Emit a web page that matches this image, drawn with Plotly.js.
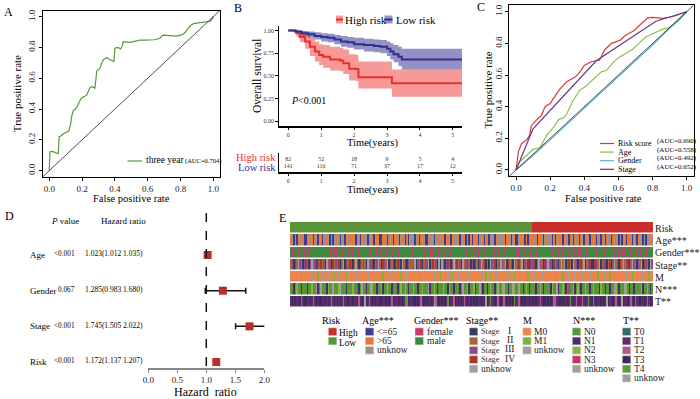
<!DOCTYPE html>
<html><head><meta charset="utf-8">
<script src="https://cdn.plot.ly/plotly-3.0.1.min.js"></script>
<style>html,body{margin:0;padding:0;background:#fff}#chart{width:700px;height:399px}</style>
</head><body><div id="chart"></div>
<script>
// ---------------- DATA ----------------
// A: three-year ROC
const rocA_fpr=[0,0,0.004,0.004,0.02,0.04,0.055,0.06,0.07,0.085,0.1,0.106,0.12,0.13,0.136,0.146,0.16,0.17,0.18,0.195,0.21,0.228,0.24,0.248,0.265,0.278,0.285,0.29,0.3,0.309,0.32,0.33,0.35,0.37,0.394,0.4,0.42,0.435,0.445,0.45,0.47,0.49,0.52,0.553,0.58,0.614,0.64,0.675,0.685,0.695,0.72,0.75,0.776,0.8,0.817,0.83,0.837,0.85,0.866,0.88,0.907,0.93,0.96,0.98,0.99,1.0];
const rocA_tpr=[0,0.09,0.09,0.123,0.125,0.115,0.11,0.22,0.225,0.24,0.245,0.25,0.26,0.3,0.35,0.39,0.4,0.415,0.44,0.47,0.48,0.49,0.52,0.54,0.545,0.535,0.6,0.65,0.655,0.665,0.7,0.72,0.735,0.72,0.71,0.795,0.8,0.79,0.81,0.837,0.835,0.833,0.84,0.848,0.848,0.848,0.85,0.86,0.875,0.88,0.878,0.876,0.874,0.88,0.887,0.9,0.913,0.93,0.946,0.955,0.96,0.965,0.967,0.97,0.98,1.0];
const rocA_label='three year', rocA_auc='(AUC=0.704)';

// B: Kaplan-Meier
const hiTime=[0,0.25,0.35,0.51,0.66,0.81,0.94,1.06,1.27,1.57,1.67,1.85,2.06,2.13,3.15,5.3];
const hiSurv=[1,0.97,0.93,0.88,0.82,0.77,0.73,0.71,0.68,0.67,0.64,0.58,0.575,0.485,0.42,0.42];
const hiUpper=[1,1,0.99,0.96,0.92,0.88,0.85,0.84,0.82,0.81,0.79,0.74,0.73,0.66,0.57,0.57];
const hiLower=[1,0.93,0.87,0.8,0.72,0.66,0.62,0.59,0.56,0.55,0.52,0.45,0.44,0.36,0.27,0.27];
const loTime=[0,0.2,0.4,0.6,0.8,1.0,1.2,1.4,1.6,1.8,2.0,2.3,2.6,2.8,3.0,3.1,3.2,3.35,3.45,5.3];
const loSurv=[1,0.99,0.97,0.96,0.94,0.93,0.92,0.9,0.88,0.87,0.85,0.84,0.83,0.82,0.8,0.77,0.74,0.71,0.68,0.68];
const loUpper=[1,1,0.995,0.99,0.98,0.97,0.965,0.95,0.94,0.93,0.92,0.91,0.9,0.895,0.88,0.86,0.84,0.82,0.8,0.8];
const loLower=[1,0.97,0.94,0.92,0.9,0.88,0.87,0.85,0.82,0.81,0.79,0.77,0.76,0.75,0.72,0.68,0.65,0.61,0.57,0.57];
const groupNames=['High risk','Low risk'];
const pText='<i>P</i>&lt;0.001';
const riskTimes=[0,1,2,3,4,5];
const nHigh=[82,52,18,9,5,4];
const nLow=[141,110,71,37,17,12];

// C: ROC comparison
const rocR_fpr=[0,0.005,0.014,0.033,0.0625,0.08,0.09,0.12,0.15,0.17,0.2,0.23,0.26,0.3,0.35,0.375,0.4,0.44,0.49,0.52,0.56,0.61,0.64,0.69,0.73,0.77,0.8,0.86,0.92,0.97,1];
const rocR_tpr=[0,0.05,0.116,0.168,0.19,0.22,0.28,0.316,0.347,0.4,0.42,0.47,0.516,0.56,0.59,0.62,0.66,0.684,0.695,0.76,0.8,0.82,0.85,0.88,0.92,0.96,0.964,0.958,0.97,0.99,1];
const rocAge_fpr=[0,0.02,0.05,0.08,0.1,0.14,0.16,0.18,0.22,0.25,0.28,0.3,0.33,0.37,0.41,0.45,0.5,0.53,0.57,0.6,0.65,0.68,0.72,0.76,0.82,0.86,0.9,0.95,1];
const rocAge_tpr=[0,0.05,0.08,0.11,0.13,0.14,0.18,0.22,0.27,0.32,0.33,0.36,0.43,0.5,0.53,0.57,0.62,0.63,0.68,0.71,0.74,0.76,0.8,0.84,0.87,0.89,0.9,0.94,1];
const rocGen_fpr=[0,0.14,0.5,0.8,1];
const rocGen_tpr=[0,0.13,0.49,0.79,1];
const rocSt_fpr=[0,0.1,0.47,0.82,1];
const rocSt_tpr=[0,0.26,0.69,0.94,1];
const rocC_names=['Risk score','Age','Gender','Stage'];
const rocC_auc=['(AUC=0.690)','(AUC=0.558)','(AUC=0.492)','(AUC=0.652)'];

// D: forest plot
const fVars=['Age','Gender','Stage','Risk'];
const fP=['<0.001','0.067','<0.001','<0.001'];
const fHR=[1.023,1.285,1.745,1.172];
const fLo=[1.012,0.983,1.505,1.137];
const fHi=[1.035,1.680,2.022,1.207];
const nullHR=1;

// E: heatmap (patients sorted by risk score)
const rowNames=['Risk','Age***','Gender***','Stage**','M','N***','T**'];
const riskCats=['High','Low'];
const ageCats=['<=65','>65','unknow'];
const genderCats=['female','male'];
const stageCats=['Stage I','Stage II','Stage III','Stage IV','unknow'];
const mCats=['M0','M1','unknow'];
const nCats=['N0','N1','N2','N3','unknow'];
const tCats=['T0','T1','T2','T3','T4','unknow'];
const riskCodes=['1111111111','1111111111','1111111111','1111111111','1111111111','1111111111','1111111111','1111111111',
 '1111111111','1111111111','1111111111','1111111111','1111111111','1111111111','1111111111','1111111111',
 '0000000000','0000000000','0000000000','0000000000','0000000000','0000000000','0000000000','0000000000'].join('');
const ageCodes=['1201012210','0212101202','1021120102','1120210121','2110120112','2012102110','0112012101','1202120102',
 '2102101120','0121202112','1201120121','2101210201','0121021101','1022101212','2101120210','0211201021',
 '1210112021','2120102112','0121012012','1012021201','1102101201','2201121020','2101210210','1210201212'].join('');
const genderCodes=['1011101110','1101101111','1110110110','0111011101','1011101101','1110111010','0110111011','1011110111',
 '0111101101','1101011101','1101110111','1110110111','1011011101','0111101011','1011110110','1011101110',
 '1101111011','1110111011','0111011101','0101110111','1101111011','1111011010','1011101110','1011101111'].join('');
const stageCodes=['1203142102','3102412031','3120412031','2130140213','2014203121','0412301241','0321402130','1320413021',
 '1240213012','2401312040','4102310241','3120412310','2031024130','1042130124','2140312041','2314021302',
 '2301421032','4120312014','1402310412','0231401230','0321401230','1302412031','4123014210','2140321042'].join('');
const mCodes=['0002000100','0000200010','0200020001','0020000100','0002000020','0200002000','0100002000','0001000200',
 '0200010002','0000020001','0000200100','0200000020','0020000201','0010002000','0000200010','0000200100',
 '0200002000','0200010000','1000200020','0002000020','0001000200','0100002000','0020001000','0002000100'].join('');
const nCodes=['0010200100','0100200410','4000120040','0024000100','0200310400','1004200100','2100400100','0102004010',
 '0400100200','0410020100','0400120010','0010400210','0210040100','1020010400','2400100420','0400102010',
 '0010040100','0012004100','2010300210','2010040010','4000120010','0100420100','0420100100','0041002010'].join('');
const tCodes=['1313113213','3113121313','3113131413','1313141131','1311321315','3121313113','3113131231','1131312431',
 '1331312131','3113152131','3131431123','1313121313','1313113135','3141131213','1213131341','1213131131',
 '3131121331','3131241131','3113141312','1312131413','2131131315','3113121315','3113121341','1311312131'].join('');

// ---------------- STYLE ----------------
const FONT='"Liberation Serif","Times New Roman",Times,serif';
const catColors={
  Risk:['#c9302c','#5b9338'],
  Age:['#3d3d8f','#e5793a','#9c8f8c'],
  Gender:['#c8396e','#3c8a3c'],
  Stage:['#333d60','#a8653a','#8d4b8d','#a3392f','#a39e9c'],
  M:['#ea854f','#7db142','#a39e9c'],
  N:['#599538','#4a2b6b','#85b443','#c0396b','#a39e9c'],
  T:['#2f6b67','#5b2e6b','#b05b8b','#3b2b5c','#5b9a38','#a39e9c']
};
const rocCColors=['#e0352f','#8dbf4e','#5ab4d0','#5b3a8a'];
const px=v=>v/700, py=v=>1-v/399;
const anns=[], shapes=[];
function T(text,x,y,size,o){o=o||{};anns.push(Object.assign({text:text,x:px(x),y:py(y),xref:'paper',yref:'paper',showarrow:false,
  font:{family:FONT,size:size,color:o.color||'#000'},xanchor:o.xa||'center',yanchor:o.ya||'middle',borderpad:0},o.extra||{}));}
const esc=s=>s.replace(/&/g,'&amp;').replace(/</g,'&lt;').replace(/>/g,'&gt;');
const vert={textangle:-90};

const traces=[];
// ---- A ----
shapes.push({type:'line',xref:'x',yref:'y',x0:-0.04,y0:-0.04,x1:1.04,y1:1.04,line:{color:'#222',width:0.8}});
traces.push({x:rocA_fpr,y:rocA_tpr,mode:'lines',line:{color:'#559b3b',width:1.2},xaxis:'x',yaxis:'y',hoverinfo:'skip'});
shapes.push({type:'line',xref:'paper',yref:'paper',x0:px(127.5),x1:px(142),y0:py(161),y1:py(161),line:{color:'#559b3b',width:1.2}});
T(rocA_label,145,160.5,9.5,{xa:'left'});
T(rocA_auc,184,161,6.5,{xa:'left'});
T('False positive rate',131.3,198.5,10.5);
T('True positive rate',16.5,93.7,11,{extra:vert});
T('A',8,12,12);

// ---- B ----
const redLine='#e8302a', blueLine='#2e3192', redBand='rgba(240,70,70,0.55)', blueBand='rgba(60,55,150,0.55)';
function band(t,lo,hi,col){
  traces.push({x:t,y:lo,mode:'lines',line:{width:0,shape:'hv'},xaxis:'x2',yaxis:'y2',hoverinfo:'skip'});
  traces.push({x:t,y:hi,mode:'lines',line:{width:0,shape:'hv'},fill:'tonexty',fillcolor:col,xaxis:'x2',yaxis:'y2',hoverinfo:'skip'});
}
band(hiTime,hiLower,hiUpper,redBand);
band(loTime,loLower,loUpper,blueBand);
traces.push({x:hiTime,y:hiSurv,mode:'lines',line:{color:redLine,width:2,shape:'hv'},xaxis:'x2',yaxis:'y2',hoverinfo:'skip'});
traces.push({x:loTime,y:loSurv,mode:'lines',line:{color:blueLine,width:2,shape:'hv'},xaxis:'x2',yaxis:'y2',hoverinfo:'skip'});
// legend
shapes.push({type:'rect',xref:'paper',yref:'paper',x0:px(336),x1:px(343),y0:py(23.5),y1:py(15.5),fillcolor:redBand,line:{width:0}});
shapes.push({type:'line',xref:'paper',yref:'paper',x0:px(336),x1:px(343),y0:py(19.5),y1:py(19.5),line:{color:redLine,width:2}});
shapes.push({type:'rect',xref:'paper',yref:'paper',x0:px(384.5),x1:px(392.5),y0:py(23.5),y1:py(15.5),fillcolor:blueBand,line:{width:0}});
shapes.push({type:'line',xref:'paper',yref:'paper',x0:px(384.5),x1:px(392.5),y0:py(19.5),y1:py(19.5),line:{color:blueLine,width:2}});
T(groupNames[0],344,19.5,11,{xa:'left'});
T(groupNames[1],394.5,19.5,11,{xa:'left'});
T(pText,290,100,10,{xa:'left'});
T('Overall survival',257,76,11.5,{extra:vert});
T('Time(years)',372,143,10.5);
T('B',238,8,12);
// risk table
traces.push({x:riskTimes,y:riskTimes.map(()=>2),text:nHigh.map(String),mode:'text',textfont:{family:FONT,size:6,color:'#333'},xaxis:'x3',yaxis:'y3',hoverinfo:'skip',cliponaxis:false});
traces.push({x:riskTimes,y:riskTimes.map(()=>1),text:nLow.map(String),mode:'text',textfont:{family:FONT,size:6,color:'#333'},xaxis:'x3',yaxis:'y3',hoverinfo:'skip',cliponaxis:false});
T(groupNames[0],276.5,157.8,10.5,{xa:'right',color:'#e8302a'});
T(groupNames[1],276.5,167.2,10.5,{xa:'right',color:'#2e3192'});
T('Time(years)',372,190,10.5);

// ---- C ----
shapes.push({type:'line',xref:'x4',yref:'y4',x0:-0.04,y0:-0.04,x1:1.04,y1:1.04,line:{color:'#222',width:0.8}});
[[rocR_fpr,rocR_tpr],[rocAge_fpr,rocAge_tpr],[rocGen_fpr,rocGen_tpr],[rocSt_fpr,rocSt_tpr]].forEach((d,i)=>{
  traces.push({x:d[0],y:d[1],mode:'lines',line:{color:rocCColors[i],width:1.2},xaxis:'x4',yaxis:'y4',hoverinfo:'skip'});
});
rocC_names.forEach((n,i)=>{
  const yy=143.5+8.6*i;
  shapes.push({type:'line',xref:'paper',yref:'paper',x0:px(600),x1:px(614),y0:py(yy),y1:py(yy),line:{color:rocCColors[i],width:1.2}});
  T(n,617,yy,8,{xa:'left'});
  T(rocC_auc[i],655.5,yy-2.5,7,{xa:'left'});
});
T('True positive rate',488,90.5,11,{extra:vert});
T('False positive rate',603,198.5,10.5);
T('C',481,7,12);

// ---- D ----
const fY=fVars.map((v,i)=>fVars.length-i);
traces.push({x:fHR,y:fY,mode:'markers',marker:{symbol:'square',size:8,color:'#b5302b'},
  error_x:{type:'data',array:fHi.map((h,i)=>h-fHR[i]),arrayminus:fLo.map((l,i)=>fHR[i]-l),color:'#111',thickness:1.5,width:3},
  xaxis:'x5',yaxis:'y5',hoverinfo:'skip',cliponaxis:false});
shapes.push({type:'line',xref:'x5',yref:'paper',x0:nullHR,x1:nullHR,y0:py(366),y1:py(212),line:{color:'#111',width:1.5,dash:'dash'}});
fVars.forEach((v,i)=>{
  anns.push({text:v,x:px(28),y:fY[i],xref:'paper',yref:'y5',xanchor:'left',yanchor:'middle',showarrow:false,font:{family:FONT,size:9}});
  anns.push({text:esc(fP[i]),x:px(76.5),y:fY[i]+0.03,xref:'paper',yref:'y5',xanchor:'right',yanchor:'middle',showarrow:false,font:{family:FONT,size:7.3}});
  anns.push({text:fHR[i].toFixed(3)+'('+fLo[i].toFixed(3)+' '+fHi[i].toFixed(3)+')',x:px(82.5),y:fY[i]+0.03,xref:'paper',yref:'y5',xanchor:'left',yanchor:'middle',showarrow:false,font:{family:FONT,size:7.5}});
});
T('<i>P</i> value',64.5,221,9);
T('Hazard ratio',123,221,9);
T('Hazard  ratio',206,391.5,12);
T('D',9.5,216,12);

// ---- E ----
const heatRows=[['Risk',riskCodes],['Age',ageCodes],['Gender',genderCodes],['Stage',stageCodes],['M',mCodes],['N',nCodes],['T',tCodes]];
let offset=0; const cs=[]; const z=[]; let K=0;
heatRows.forEach(r=>K+=catColors[r[0]].length);
heatRows.forEach(r=>{
  const cols=catColors[r[0]];
  cols.forEach((c,j)=>{cs.push([(offset+j)/K,c]);cs.push([(offset+j+1)/K,c]);});
  z.push(r[1].split('').map(ch=>offset+parseInt(ch,10)+0.5));
  offset+=cols.length;
});
const nPat=riskCodes.length;
traces.push({type:'heatmap',z:z,x:Array.from({length:nPat},(_,i)=>i),y:rowNames.map((_,i)=>i),colorscale:cs,zmin:0,zmax:K,showscale:false,ygap:1.5,xaxis:'x6',yaxis:'y6',hoverinfo:'skip'});
T('E',282,217.5,12);
// legend for E
const legendGroups=[
  ['Risk',riskCats,'Risk'],['Age***',ageCats,'Age'],['Gender***',genderCats,'Gender'],['Stage**',stageCats,'Stage'],
  ['M',mCats,'M'],['N***',nCats,'N'],['T**',tCats,'T']];
const legTitleX=[320.5,360.5,412.5,465,522,572,621.5];
const legBoxX=[328.3,365.3,415,469.3,522.7,572.3,622.3];
legendGroups.forEach((g,gi)=>{
  T(esc(g[0]),legTitleX[gi],320,10,{xa:'left'});
  g[1].forEach((lab,j)=>{
    const y0=327.8+9.3*j, bx=legBoxX[gi];
    shapes.push({type:'rect',xref:'paper',yref:'paper',x0:px(bx),x1:px(bx+8.5),y0:py(y0+7.8),y1:py(y0),fillcolor:catColors[g[2]][j],line:{color:'#e8e8e8',width:0.5}});
    if(g[2]==='Risk'){T(lab,bx+9.5,y0+5.5,9.3,{xa:'left'});}
    else if(g[2]==='Stage' && lab.indexOf(' ')>0){
      const parts=lab.split(' ');
      T(parts[0],bx+10.5,y0+4,8.3,{xa:'left',color:'#333'});
      T(parts[1],509.5,y0+3,9.5,{color:'#222'});
    } else {T(esc(lab),bx+10.5,y0+4,9.5,{xa:'left',color:'#222'});}
  });
});

// ---------------- LAYOUT ----------------
const rocAxis=(dom,anchor,isY)=>({domain:dom,anchor:anchor,range:[-0.04,1.04],tickvals:[0,0.2,0.4,0.6,0.8,1],tickformat:'.1f',
  ticks:'outside',ticklen:3,tickcolor:'#000',showline:true,mirror:true,linecolor:'#000',linewidth:1,showgrid:false,zeroline:false,
  tickfont:{size:9,color:'#222'},tickangle:isY?-90:0,automargin:false});
const layout={
  width:700,height:399,margin:{l:0,r:0,t:0,b:0},paper_bgcolor:'#fff',plot_bgcolor:'#fff',showlegend:false,
  font:{family:FONT,color:'#000'},
  xaxis:rocAxis([px(42.7),px(219.9)],'y',false),
  yaxis:rocAxis([py(176.8),py(10.5)],'x',true),
  xaxis2:{domain:[px(279.3),px(462)],anchor:'y2',range:[-0.274,5.28],tickvals:[0,1,2,3,4,5],ticks:'outside',ticklen:2,tickcolor:'#000',
    showline:true,linecolor:'#000',linewidth:1.5,showgrid:false,zeroline:false,tickfont:{size:6,color:'#333'},automargin:false},
  yaxis2:{domain:[py(126),py(26)],anchor:'x2',range:[-0.052,1.05],tickvals:[0,0.25,0.5,0.75,1],tickformat:'.2f',ticks:'outside',ticklen:2.5,tickcolor:'#000',
    showline:true,linecolor:'#000',linewidth:1.5,showgrid:false,zeroline:false,tickfont:{size:6,color:'#333'},automargin:false},
  xaxis3:{domain:[px(279.3),px(462)],anchor:'y3',range:[-0.274,5.28],tickvals:[0,1,2,3,4,5],ticks:'outside',ticklen:2,tickcolor:'#000',
    showline:true,linecolor:'#000',linewidth:1.5,showgrid:false,zeroline:false,tickfont:{size:6,color:'#333'},automargin:false},
  yaxis3:{domain:[py(172),py(152.5)],anchor:'x3',range:[0.143,3.0],showline:true,linecolor:'#000',linewidth:1.5,showticklabels:false,ticks:'',showgrid:false,zeroline:false},
  xaxis4:rocAxis([px(509.2),px(693.5)],'y4',false),
  yaxis4:rocAxis([py(176.3),py(5.4)],'x4',true),
  xaxis5:{domain:[px(148.3),px(264.3)],anchor:'y5',range:[0,2],tickvals:[0,0.5,1,1.5,2],tickformat:'.1f',ticks:'outside',ticklen:3,tickcolor:'#888',
    showline:true,linecolor:'#888',linewidth:1.5,showgrid:false,zeroline:false,tickfont:{size:9,color:'#222'},automargin:false},
  yaxis5:{domain:[py(368),py(210)],anchor:'x5',range:[0.832,5.262],visible:false},
  xaxis6:{domain:[px(290),px(653)],anchor:'y6',range:[-0.5,nPat-0.5],visible:false},
  yaxis6:{domain:[py(308),py(222)],anchor:'x6',range:[6.5,-0.5],tickvals:rowNames.map((_,i)=>i),ticktext:rowNames,side:'right',ticks:'',
    showline:false,showgrid:false,zeroline:false,tickfont:{size:10,color:'#222'},ticklabelstandoff:1,automargin:false},
  annotations:anns,shapes:shapes
};
Plotly.newPlot('chart',traces,layout,{staticPlot:true,displayModeBar:false});
</script></body></html>
